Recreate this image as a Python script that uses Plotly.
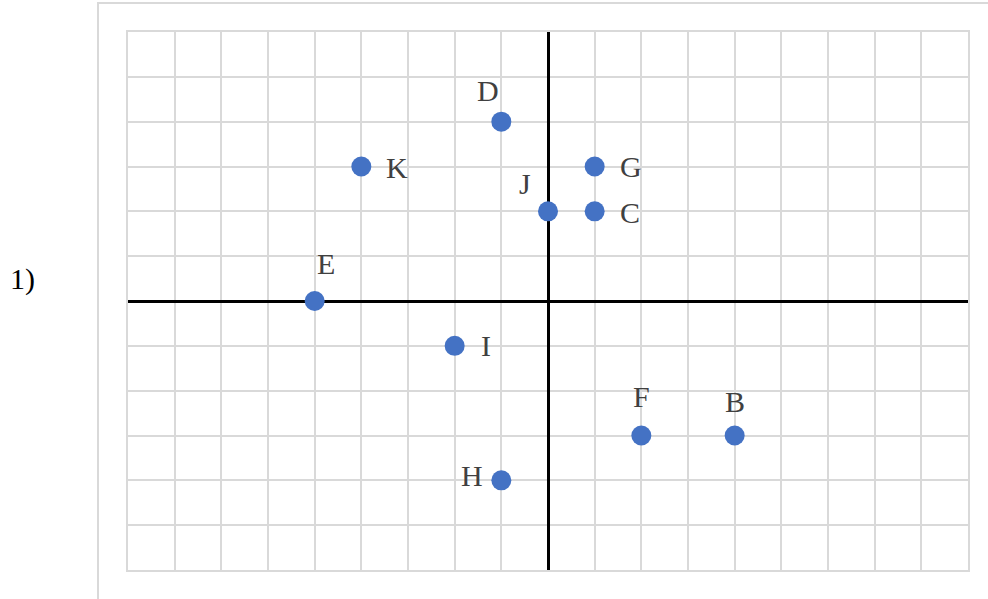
import plotly.graph_objects as go

# points on the coordinate grid
labels = ["D", "K", "G", "J", "C", "E", "I", "F", "B", "H"]
xs = [-1, -4, 1, 0, 1, -5, -2, 2, 4, -1]
ys = [4, 3, 3, 2, 2, 0, -1, -3, -3, -4]

# label offsets in pixels (where each letter sits next to its dot)
dx = [-13, 36, 36, -23, 35, 11, 31, 0, 0, -29]
dy = [31, -1, 0, 28, -1, 38, 0, 39, 34, 5]

fig = go.Figure()

fig.add_trace(go.Scatter(
    x=xs, y=ys, mode="markers",
    marker=dict(size=20, color="#4472C4"),
    hoverinfo="text", text=labels, showlegend=False,
))

for lab, x, y, sx, sy in zip(labels, xs, ys, dx, dy):
    fig.add_annotation(
        x=x, y=y, text=lab, showarrow=False,
        xshift=sx, yshift=sy,
        font=dict(family="Liberation Serif", size=30, color="#404040"),
    )

# question number on the left
fig.add_annotation(
    x=-0.1256, y=0.54, xref="paper", yref="paper", text="1)",
    showarrow=False, xanchor="center", yanchor="middle",
    font=dict(family="Liberation Serif", size=30, color="#000000"),
)

# outer chart border
fig.add_shape(
    type="rect", xref="paper", yref="paper",
    x0=-0.0357, x1=1.2, y0=-0.2, y1=1.054,
    line=dict(color="#d9d9d9", width=2), fillcolor="rgba(0,0,0,0)",
)

axis_style = dict(
    dtick=1, showticklabels=False, ticks="",
    showgrid=True, gridcolor="#d9d9d9", gridwidth=1.5,
    zeroline=True, zerolinecolor="#000000", zerolinewidth=3,
    showline=True, linecolor="#d9d9d9", linewidth=1.5, mirror=True,
    fixedrange=True,
)

fig.update_xaxes(range=[-9, 9], **axis_style)
fig.update_yaxes(range=[-6, 6], **axis_style)

fig.update_layout(
    width=988, height=599,
    margin=dict(l=128, r=20, t=32, b=29),
    plot_bgcolor="white", paper_bgcolor="white",
)

# drop the default body margin so the figure fills the window
fig.write_html(
    "out.html",
    config={"displayModeBar": False},
    post_script="document.body.style.margin='0';",
)
